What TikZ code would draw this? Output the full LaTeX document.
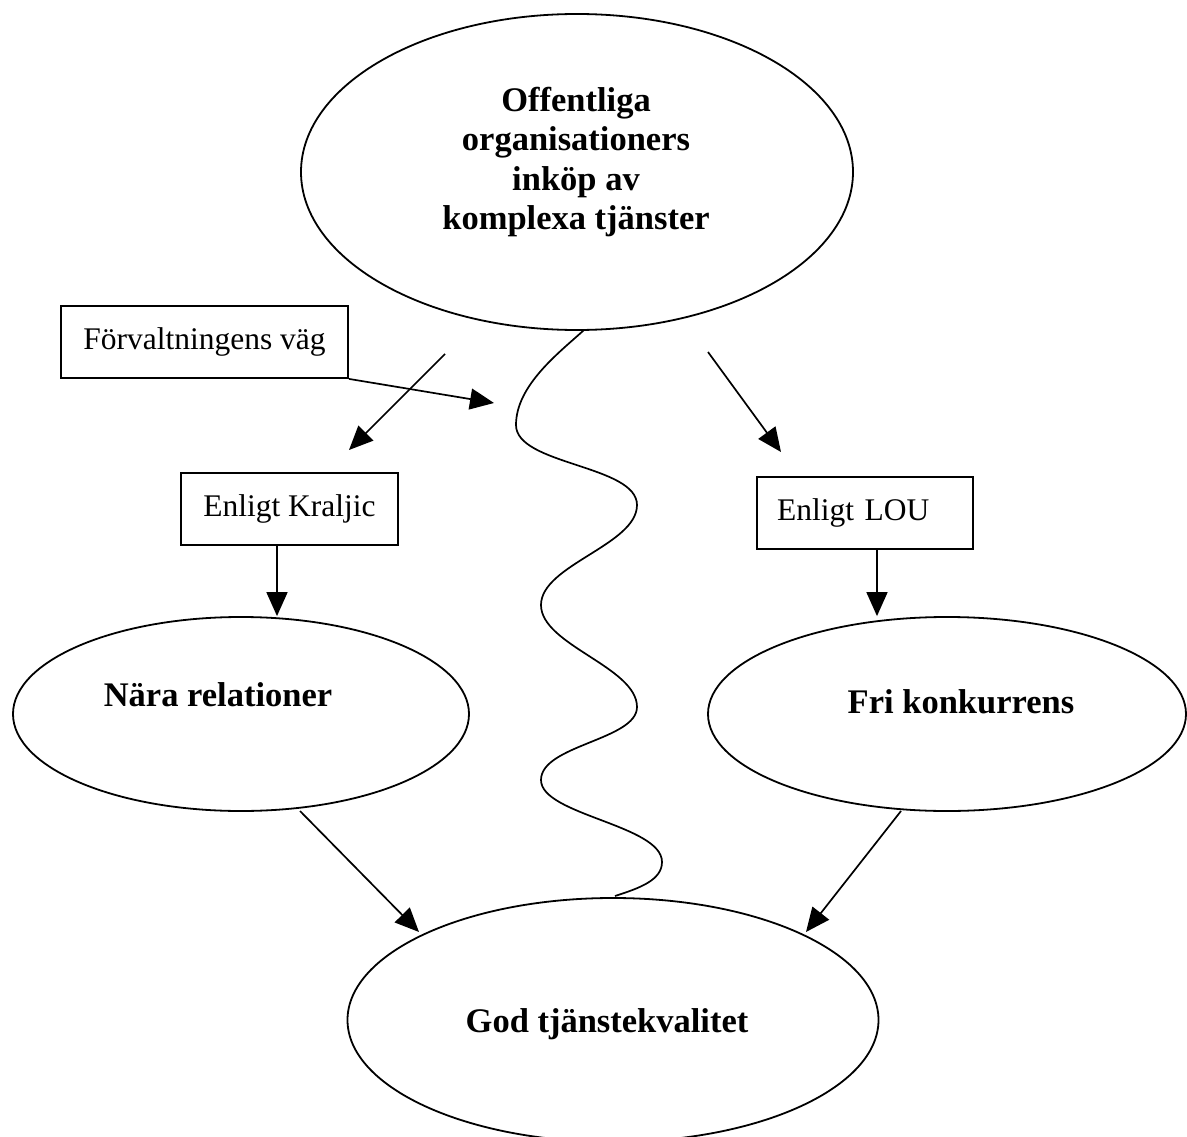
\documentclass[tikz,border=0pt]{standalone}
\usepackage{fontspec}
\setmainfont{Liberation Serif}
\usetikzlibrary{shapes.geometric,arrows.meta}
\begin{document}
\begin{tikzpicture}[x=1pt,y=-1pt,
  oval/.style={draw, ellipse, inner sep=0pt, line width=1.8pt},
  framed/.style={draw, rectangle, line width=1.8pt, inner sep=0pt,
    font=\fontsize{31.5}{36}\selectfont},
  heading/.style={font=\bfseries\fontsize{34.5}{39.5}\selectfont,
    align=center, inner sep=0pt},
  arr/.style={-{Triangle[length=24pt,width=21pt]}, line width=1.7pt},
  wave/.style={line width=1.7pt},
]
\useasboundingbox (0,0) rectangle (1187,1137);

% main question
\node[oval, minimum width=552pt, minimum height=316pt] (top) at (577,172) {};
\node[heading] (toptxt) at (576,162)
  {Offentliga\\organisationers\\inköp av\\komplexa tjänster};

% boxes
\node[framed, minimum width=287pt, minimum height=72pt] (fv) at (204.5,342) {Förvaltningens väg};
\node[framed, minimum width=217pt, minimum height=72pt] (kr) at (289.5,509) {Enligt Kraljic};
\node[framed, minimum width=216pt, minimum height=72pt, text width=176pt,
      inner xsep=20pt, align=left] (lou) at (865,513) {Enligt LOU};

% outcome ellipses
\node[oval, minimum width=456pt, minimum height=194pt] (na) at (241,714) {};
\node[heading] (natxt) at (218,695) {Nära relationer};
\node[oval, minimum width=478pt, minimum height=194pt] (fri) at (947,714) {};
\node[heading] (fritxt) at (961,702) {Fri konkurrens};
\node[oval, minimum width=531pt, minimum height=244pt] (god) at (613,1020) {};
\node[heading] (godtxt) at (607,1024) {God tjänstekvalitet};

% free ends of the connectors
\coordinate (l0) at (445,354);
\coordinate (l1) at (349,450);
\coordinate (r0) at (708,352);
\coordinate (r1) at (781,452);
\coordinate (fvend) at (494,403);
\coordinate (na0) at (300,811);
\coordinate (god0) at (419,932);
\coordinate (fri0) at (901,811);
\coordinate (god1) at (806,932);
\coordinate (w0) at (584,330);
\coordinate (w7) at (615,896);

% connectors
\draw[arr] (l0) -- (l1);
\draw[arr] (r0) -- (r1);
\draw[arr] (fv.south east) -- (fvend);
\draw[arr] ([xshift=-12.5pt]kr.south) -- ([xshift=-12.5pt]kr.south |- na.north);
\draw[arr] ([xshift=12pt]lou.south) -- ([xshift=12pt]lou.south |- fri.north);
\draw[arr] (na0) -- (god0);
\draw[arr] (fri0) -- (god1);

% meandering line between the two paths
\draw[wave] (w0)
  .. controls (560,352) and (516,385) .. (516,425)
  .. controls (516,465) and (637,465) .. (637,505)
  .. controls (637,545) and (541,565) .. (541,605)
  .. controls (541,645) and (637,667) .. (637,707)
  .. controls (637,740) and (541,745) .. (541,780)
  .. controls (541,815) and (662,825) .. (662,862)
  .. controls (662,880) and (640,888) .. (w7);
\end{tikzpicture}
\end{document}
